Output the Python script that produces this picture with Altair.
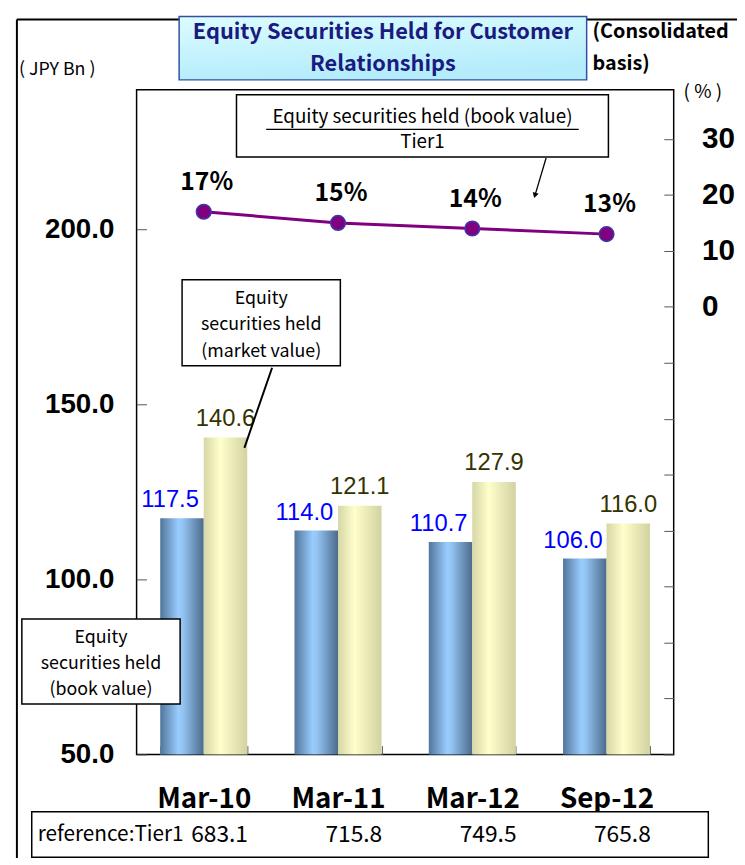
import altair as alt
import pandas as pd

# ---------------- data ----------------
categories = ["Mar-10", "Mar-11", "Mar-12", "Sep-12"]
book_value = [117.5, 114.0, 110.7, 106.0]      # JPY Bn
market_value = [140.6, 121.1, 127.9, 116.0]    # JPY Bn
ratio_pct = [17, 15, 14, 13]                   # book value / Tier1 (%)
tier1 = [683.1, 715.8, 749.5, 765.8]           # JPY Bn

df = pd.DataFrame({
    "period": categories,
    "book": book_value,
    "market": market_value,
    "ratio": ratio_pct,
    "tier1": tier1,
})
dummy = pd.DataFrame({"a": [0]})

W, H = 543, 672
JP = "Noto Sans CJK JP"
LS = "Liberation Sans"

x_enc = alt.X(
    "period:N", sort=categories,
    scale=alt.Scale(paddingInner=0.352, paddingOuter=0.176),
    axis=alt.Axis(title=None, labelAngle=0, tickBand="extent", offset=-9, tickSize=9,
                  domain=False, labelFont=JP, labelFontSize=28, labelFontWeight="bold",
                  labelColor="black", tickColor="#555555", labelPadding=32),
)
xoff = alt.XOffset("s:N", scale=alt.Scale(domain=["book", "market"], paddingInner=0, paddingOuter=0))

yL_scale = alt.Scale(domain=[50, 240], zero=False, nice=False)
yL_axis = alt.Axis(title=None, values=[50, 100, 150, 200], format=".1f", offset=-10, tickSize=10,
                   domain=False, grid=False, labelFont=LS, labelFontSize=28, labelFontWeight="bold",
                   labelColor="black", tickColor="#555555", labelPadding=23)
yR_scale = alt.Scale(domain=[-80, 38.8], zero=False, nice=False)
yR_axis = alt.Axis(title=None, orient="right", values=list(range(-80, 40, 10)),
                   labelExpr="datum.value >= 0 ? datum.label : ''", offset=-10, tickSize=10,
                   domain=False, grid=False, labelFont=LS, labelFontSize=30, labelFontWeight="bold",
                   labelColor="black", tickColor="#555555", labelPadding=28, labelAlign="left")

blue_grad = alt.Gradient(gradient="linear", x1=0, x2=1, y1=0, y2=0, stops=[
    alt.GradientStop(offset=0, color="#52759a"),
    alt.GradientStop(offset=0.42, color="#99ccff"),
    alt.GradientStop(offset=0.52, color="#93c4f2"),
    alt.GradientStop(offset=1, color="#4c6b8c"),
])
yellow_grad = alt.Gradient(gradient="linear", x1=0, x2=1, y1=0, y2=0, stops=[
    alt.GradientStop(offset=0, color="#d6d6a6"),
    alt.GradientStop(offset=0.38, color="#ffffcc"),
    alt.GradientStop(offset=1, color="#d2d2a2"),
])

base = alt.Chart(df)

bars_book = base.transform_calculate(s="'book'").mark_bar(fill=blue_grad, strokeWidth=0).encode(
    x=x_enc, xOffset=xoff,
    y=alt.Y("book:Q", scale=yL_scale, axis=yL_axis), y2=alt.datum(50))
bars_mkt = base.transform_calculate(s="'market'").mark_bar(fill=yellow_grad, strokeWidth=0).encode(
    x=x_enc, xOffset=xoff,
    y=alt.Y("market:Q", scale=yL_scale, axis=yL_axis), y2=alt.datum(50))
lbl_book = base.transform_calculate(s="'book'").mark_text(
    font=LS, fontSize=24, color="#0000ff", baseline="alphabetic", dy=-11, dx=-12).encode(
    x=x_enc, xOffset=xoff, y=alt.Y("book:Q", scale=yL_scale, axis=yL_axis),
    text=alt.Text("book:Q", format=".1f"))
lbl_mkt = base.transform_calculate(s="'market'").mark_text(
    font=LS, fontSize=24, color="#333300", baseline="alphabetic", dy=-12).encode(
    x=x_enc, xOffset=xoff, y=alt.Y("market:Q", scale=yL_scale, axis=yL_axis),
    text=alt.Text("market:Q", format=".1f"))
left = alt.layer(bars_book, bars_mkt, lbl_book, lbl_mkt)

line = base.mark_line(color="#800080", strokeWidth=3).encode(
    x=x_enc, y=alt.Y("ratio:Q", scale=yR_scale, axis=yR_axis))
pts = base.mark_circle(color="#800080", stroke="#3a3aa8", strokeWidth=1.5, size=220, opacity=1).encode(
    x=x_enc, y=alt.Y("ratio:Q", scale=yR_scale, axis=yR_axis))
pct = base.transform_calculate(t="datum.ratio + '%'").mark_text(
    font=JP, fontWeight="bold", fontSize=25, color="black", baseline="alphabetic", dy=-22, dx=3).encode(
    x=x_enc, y=alt.Y("ratio:Q", scale=yR_scale, axis=yR_axis), text="t:N")
right = alt.layer(line, pts, pct)

tier_vals = base.transform_calculate(t="format(datum.tier1, '.1f')").mark_text(
    font=JP, fontSize=23, color="black", baseline="middle", dx=16).encode(
    x=x_enc, y=alt.value(753), text="t:N")

# ---------------- decorations (pixel positions relative to plot area) ----------------
d = alt.Chart(dummy)


def box(x1, x2, y1, y2, fill="white", stroke="black", sw=1.5):
    return d.mark_rect(fill=fill, stroke=stroke, strokeWidth=sw).encode(
        x=alt.value(x1), x2=alt.value(x2), y=alt.value(y1), y2=alt.value(y2))


def rule(x1, y1, x2, y2, sw=1.5, color="black"):
    return d.mark_rule(color=color, strokeWidth=sw).encode(
        x=alt.value(x1), x2=alt.value(x2), y=alt.value(y1), y2=alt.value(y2))


def txt(s, xx, yy, size=17, weight="normal", color="black", align="center", font=JP):
    return d.mark_text(text=s, font=font, fontSize=size, fontWeight=weight, color=color,
                       align=align, baseline="middle").encode(x=alt.value(xx), y=alt.value(yy))


title_grad = alt.Gradient(gradient="linear", x1=0, x2=0.3, y1=0, y2=1, stops=[
    alt.GradientStop(offset=0, color="#dcfcff"),
    alt.GradientStop(offset=1, color="#b4ecfc"),
])

decor = [
    rule(-121, -71, 607, -71, sw=2),
    rule(-121, -71, -121, 790, sw=2),
    box(43, 455, -74, -10, fill=title_grad, stroke="#3050a0", sw=1.5),
    txt("Equity Securities Held for Customer", 249, -58, size=22, weight="bold", color="#1a1a80"),
    txt("Relationships", 249, -26, size=22, weight="bold", color="#1a1a80"),
    txt("(Consolidated", 461, -58, size=20, weight="bold", align="left"),
    txt("basis)", 461, -26, size=20, weight="bold", align="left"),
    txt("( JPY Bn )", -119, -20, size=18, align="left"),
    txt("( % )", 553, 2, size=19, align="left"),
    # Tier1 ratio box
    box(101, 477, 5, 68),
    txt("Equity securities held (book value)", 289, 28, size=19),
    rule(131, 40, 447, 40, sw=1.2),
    txt("Tier1", 289, 53, size=19),
    rule(414, 69, 403, 106, sw=1.3),
    d.mark_point(shape="triangle", angle=197, size=40, filled=True, color="black", opacity=1).encode(
        x=alt.value(403), y=alt.value(106)),
    # market value box
    rule(137, 281, 109, 362, sw=2),
    box(46, 206, 192, 279),
    txt("Equity", 126, 212, size=18),
    txt("securities  held", 126, 238, size=18),
    txt("(market value)", 126, 265, size=18),
    # book value box
    box(-116, 44, 535, 621),
    txt("Equity", -36, 554, size=18),
    txt("securities  held", -36, 581, size=18),
    txt("(book value)", -36, 607, size=18),
    # Tier1 reference table
    box(-106, 578, 730, 776),
    txt("reference:Tier1", -100, 753, size=21, align="left"),
]

chart = alt.layer(left, right, *decor, tier_vals).resolve_scale(y="independent").properties(
    width=W, height=H,
    autosize=alt.AutoSizeParams(type="none"),
    padding={"left": 130, "top": 78, "right": 64, "bottom": 100},
).configure_view(stroke="black", strokeWidth=1.5, fill="white")

chart.save("out.html", embed_options={"renderer": "svg", "actions": False})
